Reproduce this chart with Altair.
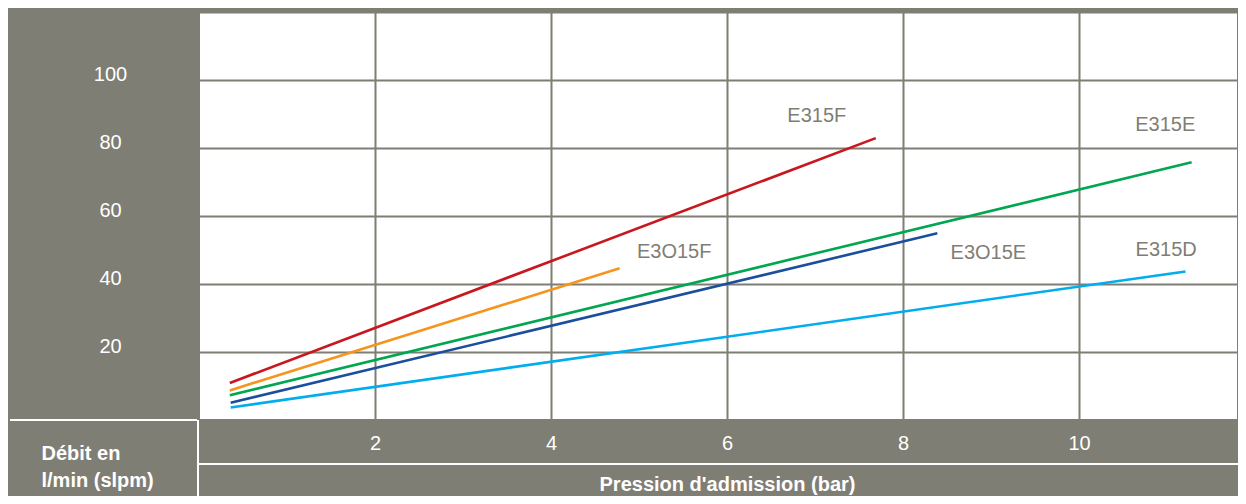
import altair as alt
import pandas as pd

GRAY = "#7f7e74"
FONT = "Liberation Sans"

# Series (straight lines: start and end points)
series = ["E315F", "E3O15F", "E315E", "E3O15E", "E315D"]
x_start = [0.35, 0.35, 0.35, 0.36, 0.36]
y_start = [10.9, 8.7, 7.3, 5.1, 3.7]
x_end = [7.69, 4.78, 11.28, 8.39, 11.21]
y_end = [82.9, 44.6, 75.8, 54.9, 43.7]
colors = ["#c8171e", "#f7941d", "#00a650", "#1b4f9c", "#00adee"]

# Series labels
label_text = ["E315F", "E315E", "E3O15F", "E3O15E", "E315D"]
label_x = [7.02, 10.98, 5.40, 8.97, 10.99]
label_y = [89.4, 86.8, 49.4, 49.2, 50.1]

x_ticks = [2, 4, 6, 8, 10]
y_ticks = [20, 40, 60, 80, 100, 120]

W, H = 1039, 408
BOTTOM = 76

rows = []
for s, xs, ys, xe, ye in zip(series, x_start, y_start, x_end, y_end):
    rows.append({"series": s, "x": xs, "y": ys, "o": 0})
    rows.append({"series": s, "x": xe, "y": ye, "o": 1})
lines_df = pd.DataFrame(rows)
labels_df = pd.DataFrame({"label": label_text, "x": label_x, "y": label_y})

x_enc = alt.X(
    "x:Q",
    scale=alt.Scale(domain=[0, W / 88.0], nice=False, zero=False),
    axis=alt.Axis(
        values=x_ticks, grid=True, gridColor=GRAY, gridWidth=2, gridOpacity=1,
        domain=False, ticks=False,
        labelColor="white", labelFont=FONT, labelFontSize=20,
        labelBaseline="middle", labelPadding=23,
        title="Pression d'admission (bar)", titleX=528, titleY=70,
        titleAlign="center", titleBaseline="alphabetic", titleColor="white",
        titleFont=FONT, titleFontSize=20, titleFontWeight="bold",
    ),
)
y_enc = alt.Y(
    "y:Q",
    scale=alt.Scale(domain=[0, 120], nice=False),
    axis=alt.Axis(
        values=y_ticks, labelExpr="datum.value == 120 ? '' : datum.label",
        grid=True, gridColor=GRAY, gridWidth=2, gridOpacity=1,
        domain=False, ticks=False,
        labelColor="white", labelFont=FONT, labelFontSize=20,
        labelAlign="center", labelBaseline="middle", labelPadding=89, labelOffset=-6,
        title=["Débit en", "l/min (slpm)"], titleAngle=0, titleX=-158, titleY=447,
        titleAlign="left", titleBaseline="alphabetic", titleColor="white",
        titleFont=FONT, titleFontSize=20, titleFontWeight="bold", titleLineHeight=27,
    ),
)

lines = alt.Chart(lines_df).mark_line(strokeWidth=2.6).encode(
    x=x_enc, y=y_enc,
    color=alt.Color("series:N", scale=alt.Scale(domain=series, range=colors), legend=None),
    order="o:Q",
)

labels = alt.Chart(labels_df).mark_text(
    font=FONT, fontSize=20, color=GRAY, align="center", baseline="middle"
).encode(x=x_enc, y=y_enc, text="label:N")

one = pd.DataFrame({"a": [0]})
sep1 = alt.Chart(one).mark_rule(color="white", strokeWidth=2).encode(
    x=alt.value(0), x2=alt.value(W), y=alt.value(H + 44))
sep2 = alt.Chart(one).mark_rule(color="white", strokeWidth=2).encode(
    x=alt.value(-1), y=alt.value(H), y2=alt.value(H + BOTTOM))
sep3 = alt.Chart(one).mark_rule(color="white", strokeWidth=2).encode(
    x=alt.value(-189), x2=alt.value(-2), y=alt.value(H))

chart = alt.layer(lines, labels, sep1, sep2, sep3).properties(
    width=W, height=H,
    background=GRAY,
    padding={"left": 191, "top": 4, "right": 0, "bottom": BOTTOM},
    autosize=alt.AutoSizeParams(type="none"),
).configure_view(fill="white", stroke=GRAY, strokeWidth=2)

chart.save("out.html", embed_options={"renderer": "svg", "actions": False})
